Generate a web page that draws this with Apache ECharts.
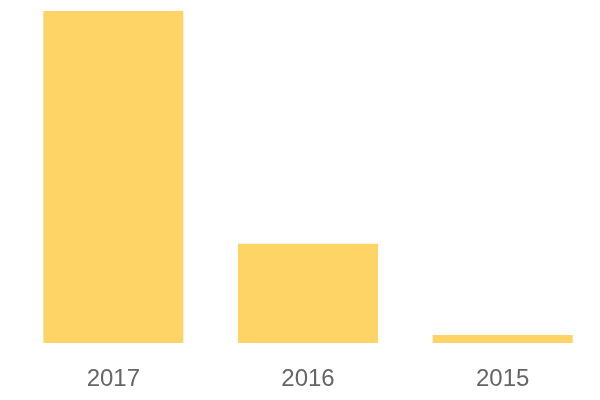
<!DOCTYPE html>
<html>
<head>
<meta charset="utf-8">
<script src="https://cdn.jsdelivr.net/npm/echarts@6/dist/echarts.min.js"></script>
<style>html,body{margin:0;padding:0;background:#fff}#c{width:600px;height:400px}</style>
</head>
<body>
<div id="c"></div>
<script>
const categories = ['2017', '2016', '2015'];
const values = [1000, 299, 24];

const chart = echarts.init(document.getElementById('c'), null, {renderer: 'canvas'});
chart.setOption({
  animation: false,
  grid: {left: 16, right: 0, top: 11, bottom: 57, containLabel: false},
  xAxis: {
    type: 'category',
    data: categories,
    axisLine: {show: false},
    axisTick: {show: false},
    axisLabel: {color: '#666666', fontSize: 24, margin: 24, fontFamily: 'Liberation Sans, Arial, sans-serif'}
  },
  yAxis: {
    type: 'value',
    min: 0,
    max: 'dataMax',
    show: false,
    splitLine: {show: false}
  },
  series: [{
    type: 'bar',
    data: values,
    barWidth: 140,
    itemStyle: {color: '#FFD466'}
  }]
});
</script>
</body>
</html>
